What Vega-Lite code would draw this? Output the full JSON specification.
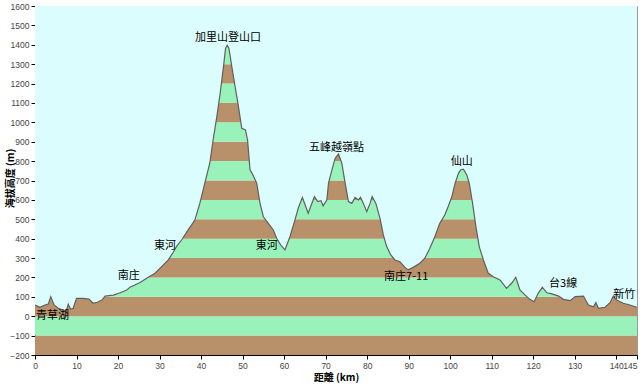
{
  "$schema": "https://vega.github.io/schema/vega-lite/v6.json",
  "width": 602,
  "height": 349,
  "autosize": {"type": "none"},
  "padding": {"left": 35, "top": 6, "right": 3, "bottom": 29},
  "background": "#ffffff",
  "config": {
    "view": {"stroke": "#9a9a9a", "strokeWidth": 1},
    "axis": {
      "labelFont": "Liberation Sans",
      "labelFontSize": 8.5,
      "labelColor": "#444444",
      "labelOverlap": false,
      "labelBound": false,
      "labelFlush": false,
      "format": "d",
      "domainColor": "#000000",
      "tickColor": "#000000",
      "tickSize": 4,
      "grid": false,
      "titleFont": "Noto Sans CJK TC",
      "titleFontSize": 10,
      "titleFontWeight": "bold",
      "titleColor": "#000000"
    }
  },
  "datasets": {
    "profile": [
      {"km": 0, "elev": 58}, {"km": 1.2, "elev": 46}, {"km": 2.4, "elev": 58}, {"km": 3.2, "elev": 63},
      {"km": 3.8, "elev": 101}, {"km": 4.6, "elev": 58}, {"km": 5.6, "elev": 41}, {"km": 6.8, "elev": 32},
      {"km": 7.5, "elev": 25}, {"km": 8.0, "elev": 62}, {"km": 8.6, "elev": 36}, {"km": 9.2, "elev": 41},
      {"km": 10, "elev": 92}, {"km": 11.6, "elev": 92}, {"km": 13, "elev": 88}, {"km": 14, "elev": 67},
      {"km": 15, "elev": 72}, {"km": 16.1, "elev": 83}, {"km": 16.9, "elev": 104}, {"km": 18.9, "elev": 109},
      {"km": 20.5, "elev": 121}, {"km": 22.1, "elev": 135}, {"km": 22.9, "elev": 150}, {"km": 25.3, "elev": 174},
      {"km": 26.9, "elev": 196}, {"km": 28.9, "elev": 222}, {"km": 30.5, "elev": 256}, {"km": 32.1, "elev": 291},
      {"km": 33.3, "elev": 330}, {"km": 34.1, "elev": 360}, {"km": 35.3, "elev": 393}, {"km": 36.9, "elev": 445},
      {"km": 38.5, "elev": 496}, {"km": 39.7, "elev": 582}, {"km": 40.9, "elev": 686}, {"km": 42.1, "elev": 789},
      {"km": 42.9, "elev": 909}, {"km": 43.8, "elev": 1029}, {"km": 44.6, "elev": 1150}, {"km": 45.4, "elev": 1287},
      {"km": 45.9, "elev": 1382}, {"km": 46.3, "elev": 1398}, {"km": 46.7, "elev": 1382}, {"km": 47.4, "elev": 1287},
      {"km": 48.2, "elev": 1184}, {"km": 49, "elev": 1081}, {"km": 49.8, "elev": 969}, {"km": 50.7, "elev": 961},
      {"km": 51.2, "elev": 909}, {"km": 51.8, "elev": 754}, {"km": 52.3, "elev": 737}, {"km": 53.4, "elev": 686},
      {"km": 54.2, "elev": 582}, {"km": 55, "elev": 513}, {"km": 56.2, "elev": 479}, {"km": 57.4, "elev": 445},
      {"km": 58.2, "elev": 402}, {"km": 59.2, "elev": 367}, {"km": 60.2, "elev": 342}, {"km": 61.4, "elev": 410},
      {"km": 62.6, "elev": 496}, {"km": 63.4, "elev": 557}, {"km": 64.4, "elev": 612}, {"km": 65.8, "elev": 531},
      {"km": 67.3, "elev": 617}, {"km": 68.1, "elev": 591}, {"km": 68.9, "elev": 596}, {"km": 69.4, "elev": 569},
      {"km": 70.3, "elev": 600}, {"km": 70.7, "elev": 686}, {"km": 71.5, "elev": 754}, {"km": 72.3, "elev": 815},
      {"km": 73.1, "elev": 837}, {"km": 73.9, "elev": 789}, {"km": 74.7, "elev": 686}, {"km": 75.5, "elev": 591},
      {"km": 76.3, "elev": 582}, {"km": 77.1, "elev": 613}, {"km": 77.9, "elev": 600}, {"km": 78.4, "elev": 613},
      {"km": 79.1, "elev": 582}, {"km": 79.9, "elev": 539}, {"km": 80.7, "elev": 582}, {"km": 81.2, "elev": 617},
      {"km": 82.1, "elev": 582}, {"km": 83.1, "elev": 505}, {"km": 83.9, "elev": 419}, {"km": 84.7, "elev": 359},
      {"km": 85.7, "elev": 316}, {"km": 86.7, "elev": 290}, {"km": 87.9, "elev": 281}, {"km": 89.1, "elev": 252},
      {"km": 89.9, "elev": 239}, {"km": 91.1, "elev": 252}, {"km": 92.7, "elev": 273}, {"km": 93.9, "elev": 299},
      {"km": 95.1, "elev": 350}, {"km": 96.3, "elev": 410}, {"km": 97.5, "elev": 479}, {"km": 98.7, "elev": 522},
      {"km": 99.5, "elev": 565}, {"km": 100.4, "elev": 617}, {"km": 101.2, "elev": 686}, {"km": 102, "elev": 737},
      {"km": 102.5, "elev": 754}, {"km": 103.2, "elev": 758}, {"km": 104, "elev": 728}, {"km": 104.6, "elev": 686},
      {"km": 105.4, "elev": 582}, {"km": 106.2, "elev": 462}, {"km": 107, "elev": 359}, {"km": 108, "elev": 290},
      {"km": 109.2, "elev": 221}, {"km": 110.4, "elev": 204}, {"km": 112, "elev": 187}, {"km": 113.6, "elev": 144},
      {"km": 114.8, "elev": 170}, {"km": 115.8, "elev": 201}, {"km": 116.8, "elev": 135}, {"km": 118, "elev": 110},
      {"km": 119.2, "elev": 87}, {"km": 120.2, "elev": 75}, {"km": 121.2, "elev": 118}, {"km": 122.2, "elev": 149},
      {"km": 123.3, "elev": 121}, {"km": 124.5, "elev": 115}, {"km": 126.1, "elev": 104}, {"km": 127.3, "elev": 87},
      {"km": 128.9, "elev": 80}, {"km": 130.1, "elev": 101}, {"km": 132.1, "elev": 104}, {"km": 133.3, "elev": 58},
      {"km": 134.5, "elev": 49}, {"km": 135.1, "elev": 70}, {"km": 135.7, "elev": 41}, {"km": 137.3, "elev": 46},
      {"km": 138.5, "elev": 70}, {"km": 139.3, "elev": 104}, {"km": 140.1, "elev": 83}, {"km": 141.7, "elev": 67},
      {"km": 143.3, "elev": 58}, {"km": 145, "elev": 46}
    ],
    "bands": [
      {"lo": -200, "hi": -100, "c": "#b8906a"}, {"lo": -100, "hi": 0, "c": "#98f2ba"},
      {"lo": 0, "hi": 100, "c": "#b8906a"}, {"lo": 100, "hi": 200, "c": "#98f2ba"},
      {"lo": 200, "hi": 300, "c": "#b8906a"}, {"lo": 300, "hi": 400, "c": "#98f2ba"},
      {"lo": 400, "hi": 500, "c": "#b8906a"}, {"lo": 500, "hi": 600, "c": "#98f2ba"},
      {"lo": 600, "hi": 700, "c": "#b8906a"}, {"lo": 700, "hi": 800, "c": "#98f2ba"},
      {"lo": 800, "hi": 900, "c": "#b8906a"}, {"lo": 900, "hi": 1000, "c": "#98f2ba"},
      {"lo": 1000, "hi": 1100, "c": "#b8906a"}, {"lo": 1100, "hi": 1200, "c": "#98f2ba"},
      {"lo": 1200, "hi": 1300, "c": "#b8906a"}, {"lo": 1300, "hi": 1400, "c": "#98f2ba"},
      {"lo": 1400, "hi": 1500, "c": "#b8906a"}, {"lo": 1500, "hi": 1600, "c": "#98f2ba"}
    ],
    "labels": [
      {"km": 4.2, "elev": 0, "label": "青草湖"},
      {"km": 22.6, "elev": 207, "label": "南庄"},
      {"km": 31.3, "elev": 362, "label": "東河"},
      {"km": 46.5, "elev": 1435, "label": "加里山登山口"},
      {"km": 55.8, "elev": 362, "label": "東河"},
      {"km": 72.6, "elev": 868, "label": "五峰越嶺點"},
      {"km": 102.8, "elev": 796, "label": "仙山"},
      {"km": 89.4, "elev": 202, "label": "南庄7-11"},
      {"km": 127.2, "elev": 166, "label": "台3線"},
      {"km": 141.9, "elev": 109, "label": "新竹"}
    ]
  },
  "encoding": {
    "y": {"field": "lo", "type": "quantitative", "scale": {"domain": [-200, 1600], "nice": false, "zero": false},
      "axis": {"values": [-200,-100,0,100,200,300,400,500,600,700,800,900,1000,1100,1200,1300,1400,1500,1600],
        "labelOverlap": false, "labelBound": false,
        "title": "海拔高度 (m)", "titleX": -25, "titleY": 172, "titleBaseline": "middle", "labelPadding": 2}}
  },
  "layer": [
    {
      "data": {"name": "bands"},
      "mark": {"type": "rect"},
      "encoding": {
        "y2": {"field": "hi"},
        "color": {"field": "c", "type": "nominal", "scale": null}
      }
    },
    {
      "data": {"name": "profile"},
      "mark": {"type": "area", "color": "#dcfdfd", "clip": true},
      "encoding": {
        "x": {"field": "km", "type": "quantitative", "scale": {"domain": [0, 145], "nice": false, "zero": false},
          "axis": {"values": [0,10,20,30,40,50,60,70,80,90,100,110,120,130,140,145], "title": "距離 (km)",
            "labelAlign": {"condition": {"test": "datum.value == 145", "value": "right"}, "value": "center"},
            "labelPadding": 2, "titlePadding": 3}},
        "y": {"field": "elev", "type": "quantitative"},
        "y2": {"datum": 1600}
      }
    },
    {
      "data": {"name": "profile"},
      "mark": {"type": "line", "color": "#606060", "strokeWidth": 1.2, "clip": true},
      "encoding": {
        "x": {"field": "km", "type": "quantitative"},
        "y": {"field": "elev", "type": "quantitative"}
      }
    },
    {
      "data": {"name": "labels"},
      "mark": {"type": "text", "font": "Noto Sans CJK TC", "fontSize": 11, "color": "#000000", "baseline": "middle", "align": "center"},
      "encoding": {
        "x": {"field": "km", "type": "quantitative"},
        "y": {"field": "elev", "type": "quantitative"},
        "text": {"field": "label"}
      }
    }
  ]
}
